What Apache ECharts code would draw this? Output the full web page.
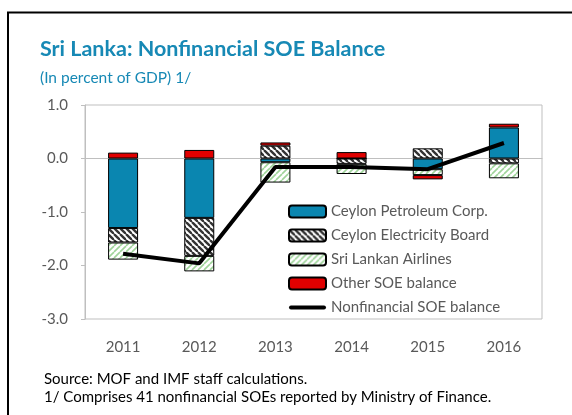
<!DOCTYPE html>
<html>
<head>
<meta charset="utf-8">
<script src="https://cdn.jsdelivr.net/npm/echarts@6/dist/echarts.min.js"></script>
<style>
  html, body { margin: 0; padding: 0; background: #fff; }
  #chart { width: 572px; height: 415px; }
</style>
</head>
<body>
<div id="chart"></div>
<script>
// data (percent of GDP)
const years = ["2011", "2012", "2013", "2014", "2015", "2016"];
const ceylonPetroleum = [-1.30, -1.11, -0.07, 0.00, -0.20, 0.58];
const ceylonElectricity = [-0.27, -0.71, 0.24, -0.10, 0.19, -0.09];
const sriLankanAirlines = [-0.32, -0.29, -0.38, -0.19, -0.11, -0.28];
const otherSoe = [0.11, 0.16, 0.06, 0.12, -0.08, 0.07];
const totalBalance = [-1.78, -1.96, -0.16, -0.16, -0.20, 0.29];
const yTicks = [-3, -2, -1, 0, 1];

// diagonal hatch fill, dir 1 = "\\", -1 = "/"
function hatch(lineColor, dir, lw, size) {
  let c = document.createElement("canvas");
  c.width = size;
  c.height = size;
  let ctx = c.getContext("2d");
  ctx.fillStyle = "#fff";
  ctx.fillRect(0, 0, size, size);
  ctx.strokeStyle = lineColor;
  ctx.lineWidth = lw;
  for (let k = -1; k <= 1; k++) {
    ctx.beginPath();
    if (dir > 0) {
      ctx.moveTo(k * size, 0);
      ctx.lineTo(k * size + size, size);
    } else {
      ctx.moveTo(k * size, size);
      ctx.lineTo(k * size + size, 0);
    }
    ctx.stroke();
  }
  return { image: c, repeat: "repeat" };
}

const font = "Lato, 'Open Sans', sans-serif";
const gray = "#595959";
const axisGray = "#bfbfbf";

function barSeries(name, data, color) {
  return {
    name: name,
    type: "bar",
    stack: "soe",
    barWidth: 30,
    data: data,
    itemStyle: { color: color, borderColor: "#000", borderWidth: 1 }
  };
}

let chart = echarts.init(document.getElementById("chart"));
chart.setOption({
  animation: false,
  title: {
    text: "Sri Lanka: Nonfinancial SOE Balance",
    subtext: "(In percent of GDP) 1/",
    left: 35,
    top: 33,
    itemGap: 10,
    textStyle: { fontFamily: font, fontSize: 21.5, fontWeight: "bold", color: "#1789b5" },
    subtextStyle: { fontFamily: font, fontSize: 15.5, color: "#1789b5" }
  },
  grid: {
    left: 85, right: 30, top: 105, bottom: 96,
    show: true, borderColor: axisGray, borderWidth: 1
  },
  legend: {
    orient: "vertical",
    left: 288,
    top: 204,
    padding: 0,
    itemWidth: 37,
    itemHeight: 12,
    itemGap: 9,
    textStyle: { fontFamily: font, fontSize: 15, color: gray },
    data: [
      "Ceylon Petroleum Corp.",
      "Ceylon Electricity Board",
      "Sri Lankan Airlines",
      "Other SOE balance",
      { name: "Nonfinancial SOE balance", icon: "path://M2,0H35A2,2 0 0 1 35,4H2A2,2 0 0 1 2,0Z" }
    ]
  },
  xAxis: [
    {
      type: "category",
      data: years,
      position: "bottom",
      axisLine: { show: false, onZero: false },
      axisTick: { show: false },
      axisLabel: { margin: 21, fontFamily: font, fontSize: 15, color: gray }
    },
    {
      type: "category",
      data: years,
      position: "top",
      axisLine: { onZero: true, lineStyle: { color: axisGray, width: 1 } },
      axisTick: { inside: false, length: 5, lineStyle: { color: axisGray } },
      axisLabel: { show: false }
    }
  ],
  yAxis: {
    type: "value",
    min: yTicks[0],
    max: yTicks[yTicks.length - 1],
    interval: 1,
    splitLine: { show: false },
    axisLine: { show: true, lineStyle: { color: axisGray } },
    axisTick: { show: true, length: 4, lineStyle: { color: axisGray } },
    axisLabel: {
      margin: 17,
      fontFamily: font, fontSize: 15, color: gray,
      formatter: v => v.toFixed(1)
    }
  },
  series: [
    barSeries("Ceylon Petroleum Corp.", ceylonPetroleum, "#0a86b0"),
    barSeries("Ceylon Electricity Board", ceylonElectricity, hatch("#333", 1, 2.4, 6)),
    barSeries("Sri Lankan Airlines", sriLankanAirlines, hatch("#9fd49a", -1, 1.6, 6)),
    barSeries("Other SOE balance", otherSoe, "#e00000"),
    {
      name: "Nonfinancial SOE balance",
      type: "line",
      data: totalBalance,
      symbol: "none",
      lineStyle: { color: "#000", width: 4 },
      itemStyle: { color: "#000" },
      z: 5
    }
  ],
  graphic: [
    {
      type: "polyline",
      shape: { points: [[8, 415], [8, 12.5], [572, 12.5]] },
      style: { stroke: "#000", lineWidth: 2, fill: null }
    },
    {
      type: "text",
      left: 44,
      top: 372,
      style: { text: "Source: MOF and IMF staff calculations.", font: "15px " + font, fill: "#000" }
    },
    {
      type: "text",
      left: 44,
      top: 390,
      style: { text: "1/ Comprises 41 nonfinancial SOEs reported by Ministry of Finance.", font: "15px " + font, fill: "#000" }
    }
  ]
});
</script>
</body>
</html>
